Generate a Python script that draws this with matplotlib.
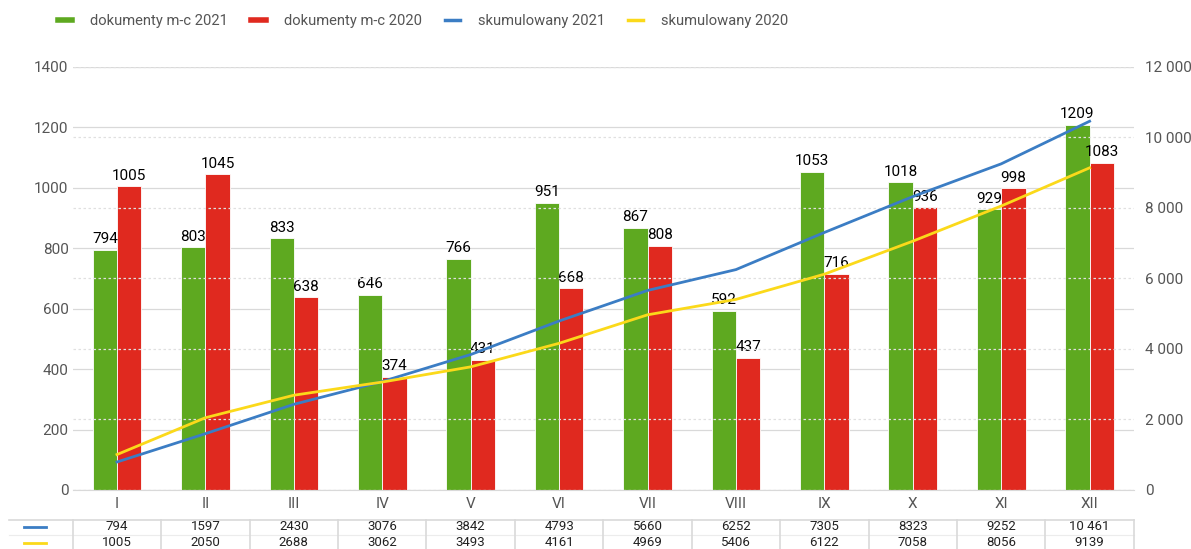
import numpy as np
import matplotlib.pyplot as plt
from matplotlib.lines import Line2D
from matplotlib.transforms import blended_transform_factory

plt.rcParams['font.family'] = ['Roboto', 'DejaVu Sans']

months = ['I', 'II', 'III', 'IV', 'V', 'VI', 'VII', 'VIII', 'IX', 'X', 'XI', 'XII']
docs_2021 = [794, 803, 833, 646, 766, 951, 867, 592, 1053, 1018, 929, 1209]
docs_2020 = [1005, 1045, 638, 374, 431, 668, 808, 437, 716, 936, 998, 1083]
cum_2021 = [794, 1597, 2430, 3076, 3842, 4793, 5660, 6252, 7305, 8323, 9252, 10461]
cum_2020 = [1005, 2050, 2688, 3062, 3493, 4161, 4969, 5406, 6122, 7058, 8056, 9139]

green = '#5ea920'
red = '#e0291f'
blue = '#3b7dc4'
yellow = '#fbd91a'
grey_txt = '#555555'
grid_c = '#d9d9d9'


def fmt(v):
    # thousands separator only from 10 000 upwards
    return f'{v:,}'.replace(',', ' ') if v >= 10000 else str(v)


fig = plt.figure(figsize=(11.91, 5.49), dpi=100)
ax = fig.add_axes([0.0611, 0.1075, 0.8909, 0.7705])
ax2 = ax.twinx()

x = np.arange(len(months))
w = 0.275

ax.bar(x - w / 2, docs_2021, w, color=green, edgecolor='white', linewidth=0.6, zorder=2)
ax.bar(x + w / 2, docs_2020, w, color=red, edgecolor='white', linewidth=0.6, zorder=2)
for xi, v in zip(x, docs_2021):
    ax.text(xi - w / 2, v + 12, str(v), ha='center', va='bottom', fontsize=11, color='black', zorder=5)
for xi, v in zip(x, docs_2020):
    ax.text(xi + w / 2, v + 12, str(v), ha='center', va='bottom', fontsize=11, color='black', zorder=5)

ax.set_xlim(-0.5, len(months) - 0.5)
ax.set_ylim(0, 1400)
ax.set_yticks(range(0, 1401, 200))
ax.yaxis.grid(True, color=grid_c, linewidth=0.9, zorder=0)
ax.set_axisbelow(True)
ax.set_xticks(x)
ax.set_xticklabels(months)
ax.tick_params(axis='y', length=0, labelsize=11, colors=grey_txt, pad=3)
ax.tick_params(axis='x', length=0, labelsize=11, colors=grey_txt, pad=5)

ax2.plot(x, cum_2021, color=blue, linewidth=2, zorder=4)
ax2.plot(x, cum_2020, color=yellow, linewidth=2, zorder=4)
ax2.set_ylim(0, 12000)
ax2.set_yticks(range(0, 12001, 2000))
ax2.set_yticklabels(['0' if v == 0 else f'{v:,}'.replace(',', ' ') for v in range(0, 12001, 2000)])
ax2.yaxis.grid(True, color='#e0e0e0', linewidth=0.9, linestyle=(0, (2, 2)))
ax2.tick_params(axis='y', length=0, labelsize=11, colors=grey_txt, pad=8)

for a in (ax, ax2):
    for s in a.spines.values():
        s.set_visible(False)
ax.spines['bottom'].set_visible(True)
ax.spines['bottom'].set_color(grid_c)

# table below the chart
tr = blended_transform_factory(ax.transData, fig.transFigure)
row_y = [1 - 527 / 549, 1 - 543 / 549]
top_y = 1 - 520 / 549
mid_y = 1 - 535 / 549
x_left = -0.5 - 64 / 88.45
ax.plot([x_left, len(months) - 0.5], [top_y, top_y], transform=tr, color=grid_c, lw=1.2, clip_on=False)
ax.plot([x_left, len(months) - 0.5], [mid_y, mid_y], transform=tr, color='#ececec', lw=0.8, clip_on=False)
for b in np.arange(-0.5, len(months), 1.0):
    ax.plot([b, b], [0, top_y], transform=tr, color=grid_c, lw=1.2, clip_on=False)
for xi, a, b in zip(x, cum_2021, cum_2020):
    ax.text(xi, row_y[0], fmt(a), transform=tr, ha='center', va='center', fontsize=9.5, color='#222222')
    ax.text(xi, row_y[1], fmt(b), transform=tr, ha='center', va='center', fontsize=9.5, color='#222222')
lx0 = 24 / 1191
lx1 = 46 / 1191
fig.add_artist(Line2D([lx0, lx1], [row_y[0], row_y[0]], color=blue, lw=2))
fig.add_artist(Line2D([lx0, lx1], [row_y[1], row_y[1]], color=yellow, lw=2))

handles = [
    Line2D([], [], color=green, lw=4),
    Line2D([], [], color=red, lw=4),
    Line2D([], [], color=blue, lw=2.5),
    Line2D([], [], color=yellow, lw=2.5),
]
labels = ['dokumenty m-c 2021', 'dokumenty m-c 2020', 'skumulowany 2021', 'skumulowany 2020']
leg = fig.legend(handles, labels, loc='center', bbox_to_anchor=(0.355, 1 - 21 / 549), ncol=4,
                 frameon=False, fontsize=10.6, handlelength=1.0, columnspacing=1.6, handletextpad=1.2)
for t in leg.get_texts():
    t.set_color(grey_txt)

fig.savefig('out.png', dpi=100)
